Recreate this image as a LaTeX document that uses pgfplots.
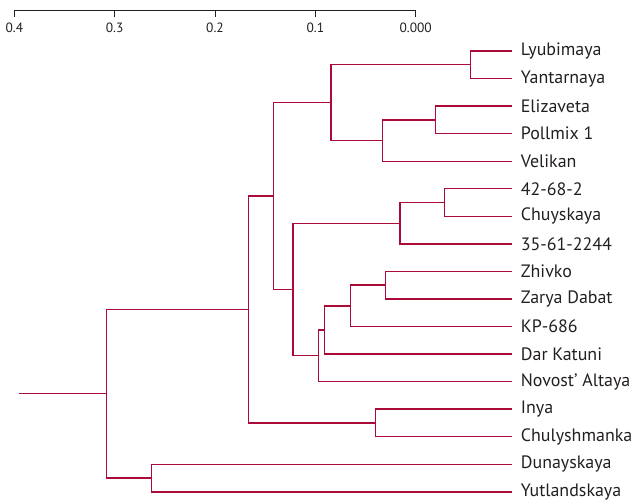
\documentclass[border=0pt]{standalone}
\usepackage{fontspec}
\setmainfont{PT Sans}
\usepackage{pgfplots}
\pgfplotsset{compat=1.18}
\definecolor{tree}{RGB}{172,10,56}
\definecolor{txt}{RGB}{35,31,32}
\begin{document}
\begin{tikzpicture}
\useasboundingbox (0,0) rectangle (644bp,-503bp);
\begin{axis}[
  at={(14.33bp,-491.8bp)}, anchor=south west,
  scale only axis, width=401.34bp, height=481.1bp,
  xmin=0, xmax=0.4, x dir=reverse,
  ymin=-1.463, ymax=16, y dir=reverse,
  axis x line*=top, axis y line=none,
  x axis line style={-, draw=txt, line width=0.9pt},
  xtick={0,0.1,0.2,0.3,0.4},
  xticklabels={0.000,0.1,0.2,0.3,0.4},
  tick align=inside, major tick length=6bp,
  tick style={draw=txt, line width=0.9pt},
  /pgf/number format/assume math mode=true,
  xticklabel style={anchor=base, yshift=-21.5bp, font=\fontsize{13.5}{15}\selectfont, text=txt},
  clip=false,
  treeline/.style={draw=tree, line width=1.4pt, solid, mark=none},
]
% links: (x child1, y1) (x node, y1) (x node, y2) (x child2, y2)
\addplot[treeline] coordinates {(-0.0957,0) (-0.0546,0) (-0.0546,1) (-0.0957,1)};
\addplot[treeline] coordinates {(-0.0957,2) (-0.0200,2) (-0.0200,3) (-0.0957,3)};
\addplot[treeline] coordinates {(-0.0200,2.5) (0.0333,2.5) (0.0333,4) (-0.0957,4)};
\addplot[treeline] coordinates {(-0.0546,0.5) (0.0844,0.5) (0.0844,3.25) (0.0333,3.25)};
\addplot[treeline] coordinates {(-0.0957,5) (-0.0289,5) (-0.0289,6) (-0.0957,6)};
\addplot[treeline] coordinates {(-0.0289,5.5) (0.0156,5.5) (0.0156,7) (-0.0957,7)};
\addplot[treeline] coordinates {(-0.0957,8) (0.0299,8) (0.0299,9) (-0.0957,9)};
\addplot[treeline] coordinates {(0.0299,8.5) (0.0652,8.5) (0.0652,10) (-0.0957,10)};
\addplot[treeline] coordinates {(0.0652,9.25) (0.0911,9.25) (0.0911,11) (-0.0957,11)};
\addplot[treeline] coordinates {(0.0911,10.125) (0.0971,10.125) (0.0971,12) (-0.0957,12)};
\addplot[treeline] coordinates {(0.0156,6.25) (0.1223,6.25) (0.1223,11.0625) (0.0971,11.0625)};
\addplot[treeline] coordinates {(0.0844,1.875) (0.1419,1.875) (0.1419,8.65625) (0.1223,8.65625)};
\addplot[treeline] coordinates {(-0.0957,13) (0.0402,13) (0.0402,14) (-0.0957,14)};
\addplot[treeline] coordinates {(0.1419,5.265625) (0.1668,5.265625) (0.1668,13.5) (0.0402,13.5)};
\addplot[treeline] coordinates {(-0.0957,15) (0.2631,15) (0.2631,16) (-0.0957,16)};
\addplot[treeline] coordinates {(0.1668,9.3828125) (0.3084,9.3828125) (0.3084,15.5) (0.2631,15.5)};
\addplot[treeline] coordinates {(0.3084,12.44140625) (0.3954,12.44140625)};
% leaf labels
\addplot[draw=none, mark=none, nodes near coords, point meta=explicit symbolic,
  nodes near coords style={anchor=west, inner sep=0pt, xshift=9bp, text=txt, font=\fontsize{18}{20}\selectfont}]
  table[meta=label, col sep=comma] {
x,y,label
-0.0957,0,Lyubimaya
-0.0957,1,Yantarnaya
-0.0957,2,Elizaveta
-0.0957,3,Pollmix 1
-0.0957,4,Velikan
-0.0957,5,42-68-2
-0.0957,6,Chuyskaya
-0.0957,7,35-61-2244
-0.0957,8,Zhivko
-0.0957,9,Zarya Dabat
-0.0957,10,KP-686
-0.0957,11,Dar Katuni
-0.0957,12,Novost’ Altaya
-0.0957,13,Inya
-0.0957,14,Chulyshmanka
-0.0957,15,Dunayskaya
-0.0957,16,Yutlandskaya
};
\end{axis}
\end{tikzpicture}
\end{document}
